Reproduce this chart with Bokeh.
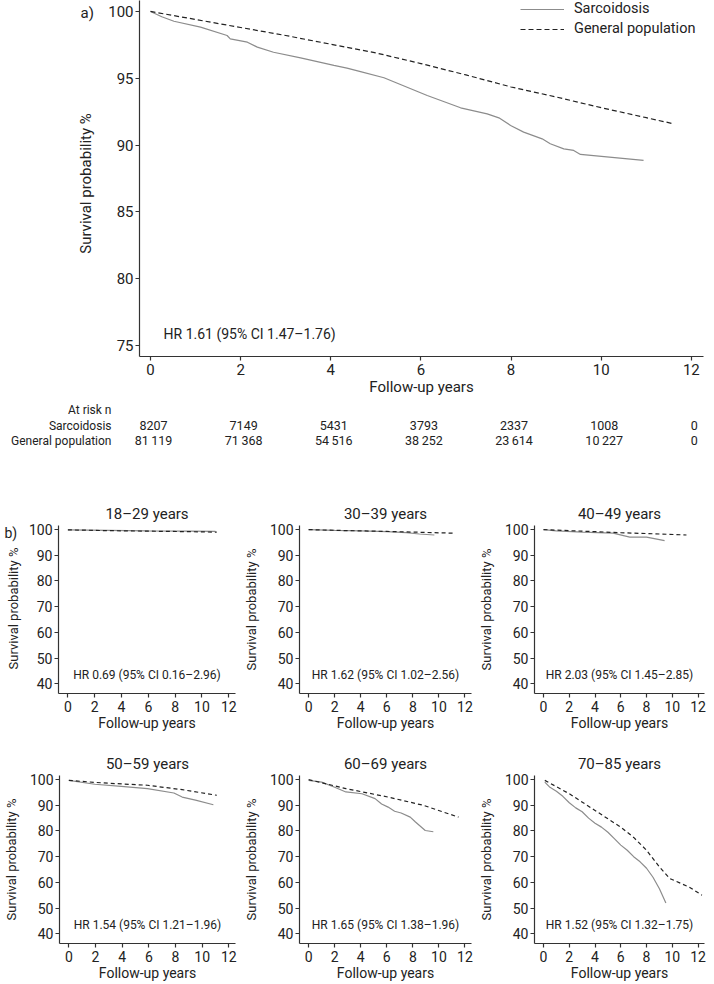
import math
from bokeh.plotting import figure
from bokeh.models import Range1d, FixedTicker, Label, Legend, LegendItem
from bokeh.layouts import column, row
from bokeh.embed import file_html
from bokeh.resources import INLINE
from bokeh.core.properties import value

FONT = "Roboto"
TXT = "#222222"
AXC = "#333333"
SARC_COLOR = "#8c8c8c"
GEN_COLOR = "#222222"

# ---------------- data: panel a (overall) ----------------
sarc_t = [0, 0.25, 0.52, 1.11, 1.70, 1.77, 2.15, 2.37, 2.73, 3.33, 4.07, 4.36, 4.66,
          5.18, 6.14, 6.88, 7.47, 7.73, 7.99, 8.28, 8.69, 8.87, 9.17, 9.39, 9.54, 10.94]
sarc_s = [100, 99.6, 99.27, 98.83, 98.2, 97.95, 97.7, 97.33, 96.95, 96.53, 95.96, 95.76, 95.5,
          95.04, 93.71, 92.79, 92.34, 92.04, 91.47, 90.97, 90.47, 90.1, 89.72, 89.6, 89.3, 88.85]
gen_t = [0, 1, 2, 3, 4, 5, 6, 7, 8, 9, 10, 11, 11.6]
gen_s = [100, 99.4, 98.8, 98.2, 97.55, 96.9, 96.1, 95.25, 94.35, 93.6, 92.8, 92.05, 91.6]
hr_overall = "HR 1.61 (95% CI 1.47\u20131.76)"

risk_years = [0, 2, 4, 6, 8, 10, 12]
risk_sarc = [8207, 7149, 5431, 3793, 2337, 1008, 0]
risk_gen = [81119, 71368, 54516, 38252, 23614, 10227, 0]
risk_labels = ["At risk n", "Sarcoidosis", "General population"]

x_ticks_a = [0, 2, 4, 6, 8, 10, 12]
y_ticks_a = [75, 80, 85, 90, 95, 100]

# ---------------- data: panel b (age groups) ----------------
age_groups = ["18\u201329 years", "30\u201339 years", "40\u201349 years",
              "50\u201359 years", "60\u201369 years", "70\u201385 years"]
hr_groups = ["HR 0.69 (95% CI 0.16\u20132.96)", "HR 1.62 (95% CI 1.02\u20132.56)",
             "HR 2.03 (95% CI 1.45\u20132.85)", "HR 1.54 (95% CI 1.21\u20131.96)",
             "HR 1.65 (95% CI 1.38\u20131.96)", "HR 1.52 (95% CI 1.32\u20131.75)"]

sarc_t_18 = [0, 3, 6, 9, 11.0]
sarc_s_18 = [99.9, 99.7, 99.5, 99.4, 99.3]
gen_t_18 = [0, 3, 6, 9, 11.1]
gen_s_18 = [99.9, 99.6, 99.4, 99.2, 99.0]

sarc_t_30 = [0, 2, 4, 6, 7.5, 8.5, 9.65]
sarc_s_30 = [100, 99.7, 99.5, 99.2, 98.8, 98.3, 97.9]
gen_t_30 = [0, 3, 6, 9, 11.2]
gen_s_30 = [100, 99.6, 99.3, 98.9, 98.6]

sarc_t_40 = [0, 1, 3, 5.4, 6.7, 8.0, 9.4]
sarc_s_40 = [100, 99.5, 99.0, 98.6, 97.1, 97.1, 95.7]
gen_t_40 = [0, 3, 6, 9, 11.1]
gen_s_40 = [100, 99.4, 98.8, 98.3, 97.9]

sarc_t_50 = [0, 1.95, 3.93, 5.9, 7.88, 8.5, 9.5, 10.84]
sarc_s_50 = [99.7, 98.2, 97.4, 96.5, 94.8, 93.2, 92.0, 90.2]
gen_t_50 = [0, 2, 4, 5.9, 8.5, 11.1]
gen_s_50 = [99.7, 98.9, 98.3, 97.8, 96.1, 93.9]

sarc_t_60 = [0, 1, 2, 2.86, 4.1, 5.1, 5.6, 6.1, 6.6, 7.1, 7.8, 8.2, 8.95, 9.57]
sarc_s_60 = [99.7, 99.0, 97.0, 95.2, 94.5, 92.6, 90.5, 89.3, 87.7, 87.0, 85.4, 83.5, 80.2, 79.7]
gen_t_60 = [0, 2.86, 6.1, 8.8, 11.5]
gen_s_60 = [100, 96.5, 93.2, 90.0, 85.4]

sarc_t_70 = [0.1, 0.5, 1, 1.5, 2, 2.5, 3, 3.5, 4, 4.5, 5, 5.5, 6, 6.5, 7, 7.5, 8, 8.5, 9, 9.5]
sarc_s_70 = [99.0, 97.0, 95.5, 93.5, 91.0, 89.0, 87.5, 85.0, 83.0, 81.5, 79.5, 77.0, 74.5,
             72.5, 70.0, 68.0, 65.5, 62.0, 57.5, 52.0]
gen_t_70 = [0.1, 2.0, 4.0, 6.0, 7.0, 8.0, 9.0, 9.8, 11.3, 12.3]
gen_s_70 = [99.7, 94.5, 88.0, 81.5, 77.5, 72.5, 66.0, 61.5, 58.2, 55.0]

x_ticks_b = [0, 2, 4, 6, 8, 10, 12]
y_ticks_b = [40, 50, 60, 70, 80, 90, 100]

group_curves = [
    (sarc_t_18, sarc_s_18, gen_t_18, gen_s_18),
    (sarc_t_30, sarc_s_30, gen_t_30, gen_s_30),
    (sarc_t_40, sarc_s_40, gen_t_40, gen_s_40),
    (sarc_t_50, sarc_s_50, gen_t_50, gen_s_50),
    (sarc_t_60, sarc_s_60, gen_t_60, gen_s_60),
    (sarc_t_70, sarc_s_70, gen_t_70, gen_s_70),
]

YLAB = "Survival probability %"
XLAB = "Follow-up years"

# ---------------- layout constants (pixels) ----------------
TOTAL_W = 714
FA_W = 100                      # side strip holding "a)" and the y title of panel a
A_FRAME_LEFT = 139              # page x of panel a frame
A_LEFT, A_RIGHT, A_TOP, A_BOTTOM = A_FRAME_LEFT - FA_W, 11, 0, 44
A_FRAME_W = TOTAL_W - FA_W - A_LEFT - A_RIGHT
A_FRAME_H = 356
A_H = A_TOP + A_FRAME_H + A_BOTTOM
XA0, XA1 = -0.244, 12.27
YA0, YA1 = 74.18, 100.82

TBL_H = 52

FB_W = 24                       # side strip holding "b)" and the y title of first small panel
B_W = [240, 235, 239]
B_LEFT = [58, 53, 50]
B_RIGHT = [5, 4, 10]
B_FRAME_H = 168
B_TOP = [73, 38]
B_BOTTOM = [44, 41]
XB0, XB1 = -0.7, 12.5
YB0, YB1 = 36.2, 101.6


def style_axes(p, tick_px, xlab_px, ylab_px, ylab_standoff, xlab_standoff, x_ticks, y_ticks):
    p.xaxis.ticker = FixedTicker(ticks=x_ticks)
    p.yaxis.ticker = FixedTicker(ticks=y_ticks)
    for ax in p.axis:
        ax.axis_line_color = AXC
        ax.axis_line_width = 1.2
        ax.major_tick_line_color = AXC
        ax.major_tick_line_width = 1.2
        ax.major_tick_out = 4
        ax.major_tick_in = 0
        ax.minor_tick_line_color = None
        ax.major_label_text_font = FONT
        ax.major_label_text_font_size = tick_px
        ax.major_label_text_color = TXT
        ax.axis_label_text_font = FONT
        ax.axis_label_text_font_style = "normal"
        ax.axis_label_text_color = TXT
    p.xaxis.axis_label_text_font_size = xlab_px
    p.yaxis.axis_label_text_font_size = ylab_px
    p.xaxis.major_label_standoff = 3
    p.yaxis.major_label_standoff = 2
    p.yaxis.axis_label_standoff = ylab_standoff
    p.xaxis.axis_label_standoff = xlab_standoff
    p.xgrid.grid_line_color = None
    p.ygrid.grid_line_color = None
    p.outline_line_color = None


def text_strip(w, top, frame_h, bottom):
    # a frameless strip whose data coordinates equal canvas pixels
    s = figure(width=w, height=top + frame_h + bottom, x_range=Range1d(0, w),
               y_range=Range1d(top + frame_h, top),
               min_border_left=0, min_border_right=0, min_border_top=top, min_border_bottom=bottom,
               x_axis_type=None, y_axis_type=None, output_backend="svg", toolbar_location=None)
    s.outline_line_color = None
    s.xgrid.grid_line_color = None
    s.ygrid.grid_line_color = None
    return s


# ---------------- panel a ----------------
fa = text_strip(FA_W, A_TOP, A_FRAME_H, A_BOTTOM)
fa.text(x=[80], y=[12], text=["a)"], text_align="left", text_baseline="middle",
        text_font=value(FONT), text_font_size="15px", text_color=TXT)
fa.text(x=[85], y=[183], text=[YLAB], angle=math.pi / 2, text_align="center",
        text_baseline="middle", text_font=value(FONT), text_font_size="15px", text_color=TXT)

pa = figure(width=TOTAL_W - FA_W, height=A_H, x_range=Range1d(XA0, XA1), y_range=Range1d(YA0, YA1),
            min_border_left=A_LEFT, min_border_right=A_RIGHT, min_border_top=A_TOP,
            min_border_bottom=A_BOTTOM, output_backend="svg", toolbar_location=None,
            x_axis_label=XLAB)
style_axes(pa, "15px", "15px", "15px", 14, 0, x_ticks_a, y_ticks_a)
r_s = pa.line(sarc_t, sarc_s, line_color=SARC_COLOR, line_width=1.2)
r_g = pa.line(gen_t, gen_s, line_color=GEN_COLOR, line_width=1.2, line_dash="5 3")
leg = Legend(items=[LegendItem(label="Sarcoidosis", renderers=[r_s]),
                    LegendItem(label="General population", renderers=[r_g])],
             location=(520 - A_FRAME_LEFT, A_FRAME_H - 37), orientation="vertical",
             border_line_color=None, background_fill_alpha=0,
             label_text_font=FONT, label_text_font_size="14.5px", label_text_color=TXT,
             glyph_width=44, glyph_height=16, label_height=16, label_standoff=10,
             padding=0, margin=0, spacing=3)
pa.add_layout(leg)
pa.add_layout(Label(x=0.29, y=75.9, text=hr_overall, text_font=FONT, text_font_size="14px",
                    text_color=TXT, text_baseline="middle", text_align="left"))

# ---------------- at-risk table ----------------
kx = (XA1 - XA0) / A_FRAME_W
tbl_x0 = XA0 - A_FRAME_LEFT * kx
tbl_x1 = XA1 + A_RIGHT * kx
pt = figure(width=TOTAL_W, height=TBL_H, x_range=Range1d(tbl_x0, tbl_x1), y_range=Range1d(TBL_H, 0),
            min_border_left=0, min_border_right=0, min_border_top=0, min_border_bottom=0,
            x_axis_type=None, y_axis_type=None, output_backend="svg", toolbar_location=None)
pt.outline_line_color = None
pt.xgrid.grid_line_color = None
pt.ygrid.grid_line_color = None
row_y = [9, 25, 40]
lab_x = XA0 + (111 - A_FRAME_LEFT) * kx


def fmt(n):
    return f"{n:,}".replace(",", "\u2009") if n >= 10000 else str(n)


pt.text(x=[lab_x] * 3, y=row_y, text=risk_labels, text_align="right", text_baseline="middle",
        text_font=value(FONT), text_font_size="12px", text_color=TXT)
pt.text(x=risk_years, y=[row_y[1]] * len(risk_years), text=[fmt(n) for n in risk_sarc],
        text_align="center", text_baseline="middle", text_font=value(FONT),
        text_font_size="12.5px", text_color=TXT, x_offset=3)
pt.text(x=risk_years, y=[row_y[2]] * len(risk_years), text=[fmt(n) for n in risk_gen],
        text_align="center", text_baseline="middle", text_font=value(FONT),
        text_font_size="12.5px", text_color=TXT, x_offset=3)

# ---------------- panel b ----------------
B_H = [B_TOP[r] + B_FRAME_H + B_BOTTOM[r] for r in range(2)]
fb = text_strip(FB_W, B_TOP[0], B_FRAME_H, B_BOTTOM[0])
fb.text(x=[4], y=[80], text=["b)"], text_align="left", text_baseline="middle",
        text_font=value(FONT), text_font_size="14px", text_color=TXT)
fb.text(x=[13], y=[156], text=[YLAB], angle=math.pi / 2,
        text_align="center", text_baseline="middle", text_font=value(FONT),
        text_font_size="13px", text_color=TXT)

panels = []
for i, (title, hr, curves) in enumerate(zip(age_groups, hr_groups, group_curves)):
    r_i, c_i = divmod(i, 3)
    w = B_W[c_i] - (FB_W if i == 0 else 0)
    left = B_LEFT[c_i] - (FB_W if i == 0 else 0)
    p = figure(width=w, height=B_H[r_i],
               x_range=Range1d(XB0, XB1), y_range=Range1d(YB0, YB1),
               min_border_left=left, min_border_right=B_RIGHT[c_i],
               min_border_top=B_TOP[r_i], min_border_bottom=B_BOTTOM[r_i],
               output_backend="svg", toolbar_location=None,
               x_axis_label=XLAB, y_axis_label=(None if i == 0 else YLAB))
    p.title.text = title
    p.title.align = "center"
    p.title.text_font = FONT
    p.title.text_font_size = "15px"
    p.title.text_font_style = "normal"
    p.title.text_color = TXT
    p.title.standoff = 6
    style_axes(p, "14px", "14px", "13px", 8, 0, x_ticks_b, y_ticks_b)
    st, ss, gt, gs = curves
    p.line(st, ss, line_color=SARC_COLOR, line_width=1.2)
    p.line(gt, gs, line_color=GEN_COLOR, line_width=1.2, line_dash="4 3")
    p.add_layout(Label(x=(XB0 + XB1) / 2, y=43.3, text=hr, text_font=FONT, text_font_size="12px",
                       text_color=TXT, text_baseline="middle", text_align="center"))
    panels.append(p)

layout = column(row(fa, pa), pt, row(fb, *panels[:3]), row(*panels[3:]))
open("out.html", "w").write(file_html(layout, INLINE))
